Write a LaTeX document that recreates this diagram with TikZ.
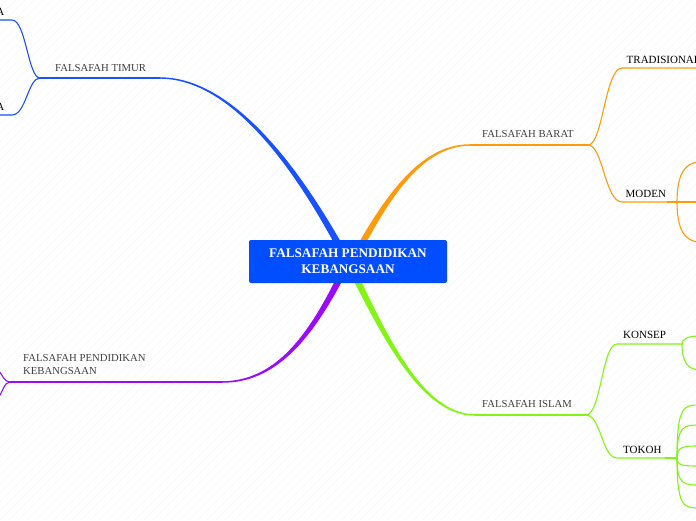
\documentclass[tikz,border=0pt]{standalone}
\usepackage{fontspec}
\setmainfont{Liberation Serif}
\definecolor{cbox}{RGB}{0,78,255}
\definecolor{cblue}{RGB}{25,80,255}
\definecolor{corange}{RGB}{255,155,10}
\definecolor{cgreen}{RGB}{130,245,20}
\definecolor{cpurple}{RGB}{155,10,255}
\begin{document}
\begin{tikzpicture}[x=1pt,y=-1pt,line cap=round,
  lbl/.style={font=\fontsize{10.7}{13}\selectfont,text=black!75,inner sep=0pt,anchor=base west},
  sublbl/.style={lbl,font=\fontsize{11}{13}\selectfont,text=black},
  mainline/.style={line width=1.4pt},
  subline/.style={line width=1.1pt},
  thickseg/.style={line width=2.6pt,line cap=butt},
  hatch/.style={draw=black!3,line width=0.4pt}]
\useasboundingbox (0,0) rectangle (696,520);
\clip (0,0) rectangle (696,520);
\fill[white] (0,0) rectangle (696,520);
\foreach \i in {-522,-513,...,702} {\draw[hatch] (\i,520) -- ++(520,-520);}

% key points
\coordinate (c) at (348,262);
\coordinate (tE) at (160,78);  \coordinate (tS) at (40,78);
\coordinate (bE) at (470,145); \coordinate (bS) at (588,145);
\coordinate (iE) at (475,415); \coordinate (iS) at (586,415);
\coordinate (pE) at (222,382); \coordinate (pS) at (10,382);

% tapered main branches
\fill[cblue] (351.1,260.4) .. controls (312.2,188.7) and (240.6,77.2) .. (160,77.3)
  -- (160,78.7) .. controls (239.4,78.8) and (307.8,191.3) .. (344.9,263.6) -- cycle;
\fill[corange] (355.1,263.6) .. controls (387.2,201.3) and (420.65,146) .. (470,145.75)
  -- (470,144.25) .. controls (419.35,144) and (382.8,198.7) .. (348.9,260.4) -- cycle;
\fill[cgreen] (351.1,260.4) .. controls (384.3,328.9) and (420.8,414.1) .. (475,414.25)
  -- (475,415.75) .. controls (419.2,415.9) and (379.7,331.1) .. (344.9,263.6) -- cycle;
\fill[cpurple] (351.15,263.5) .. controls (317.2,331.2) and (280.6,383.05) .. (222,382.75)
  -- (222,381.25) .. controls (279.4,380.95) and (312.8,328.8) .. (344.85,260.5) -- cycle;

% FALSAFAH TIMUR
\draw[cblue,mainline] (tE) -- (tS);
\coordinate (t1) at (12,20); \coordinate (t2) at (12,115);
\draw[cblue,subline] (tS) .. controls (28,78) and (26,20) .. (t1) -- (-2,20);
\draw[cblue,subline] (tS) .. controls (28,78) and (26,115) .. (t2) -- (-2,115);
\node[lbl] (timur) at (55,71.5) {FALSAFAH TIMUR};
\node[sublbl,anchor=base east] (ta1) at (4.5,15) {A};
\node[sublbl,anchor=base east] (ta2) at (4.5,110) {A};

% FALSAFAH BARAT
\draw[corange,mainline] (bE) -- (bS);
\coordinate (trad) at (622,68); \coordinate (mod) at (622,202);
\coordinate (mA) at (667,202); \coordinate (mB) at (677,202);
\draw[corange,subline] (bS) .. controls (603,145) and (605,68) .. (trad) -- (700,68);
\draw[corange,subline] (bS) .. controls (603,145) and (605,202) .. (mod) -- (mA);
\draw[corange,thickseg] (mA) -- (mB);
\draw[corange,subline] (mB) -- (700,202);
\draw[corange,subline] (mB) .. controls (677,176) and (684,162) .. (700,162);
\draw[corange,subline] (mB) .. controls (677,228) and (684,242) .. (700,242);
\node[lbl] (barat) at (482,137) {FALSAFAH BARAT};
\node[sublbl] (tradl) at (626.5,63) {TRADISIONAL};
\node[sublbl] (modl) at (625.5,197) {MODEN};

% FALSAFAH ISLAM
\draw[cgreen,mainline] (iE) -- (iS);
\coordinate (kon) at (617,344); \coordinate (kB) at (682,344);
\coordinate (tok) at (617,458); \coordinate (tA) at (665,458); \coordinate (tB) at (677,458);
\draw[cgreen,subline] (iS) .. controls (601,415) and (602,344) .. (kon) -- (kB);
\draw[cgreen,subline] (kB) .. controls (682,339) and (688,336) .. (700,336);
\draw[cgreen,subline] (kB) .. controls (682,362) and (688,370) .. (700,370);
\draw[cgreen,subline] (iS) .. controls (601,415) and (602,458) .. (tok) -- (tA);
\draw[cgreen,thickseg] (tA) -- (tB);
\foreach \yy in {405,425,446,466,485,508} {
  \draw[cgreen,subline] (tB) .. controls (677,\yy) and (684,\yy) .. (700,\yy);
}
\node[lbl] (islam) at (482,407) {FALSAFAH ISLAM};
\node[sublbl] (konl) at (623,338) {KONSEP};
\node[sublbl] (tokl) at (623,453) {TOKOH};

% FALSAFAH PENDIDIKAN KEBANGSAAN (purple)
\draw[cpurple,mainline] (pE) -- (pS);
\draw[cpurple,subline] (pS) .. controls (4,382) and (3,375) .. (-2,370);
\draw[cpurple,subline] (pS) .. controls (4,382) and (3,392) .. (-2,398);
\node[lbl,align=left,anchor=base west] (fpk) at (23,374) {FALSAFAH PENDIDIKAN\\KEBANGSAAN};

% central topic
\node[fill=cbox,rounded corners=2pt,minimum width=198pt,minimum height=43pt,inner sep=0pt,
  text=white,font=\bfseries\fontsize{13.2}{16}\selectfont,align=center] (root) at (348,261.5)
  {FALSAFAH PENDIDIKAN\\KEBANGSAAN};
\end{tikzpicture}
\end{document}
